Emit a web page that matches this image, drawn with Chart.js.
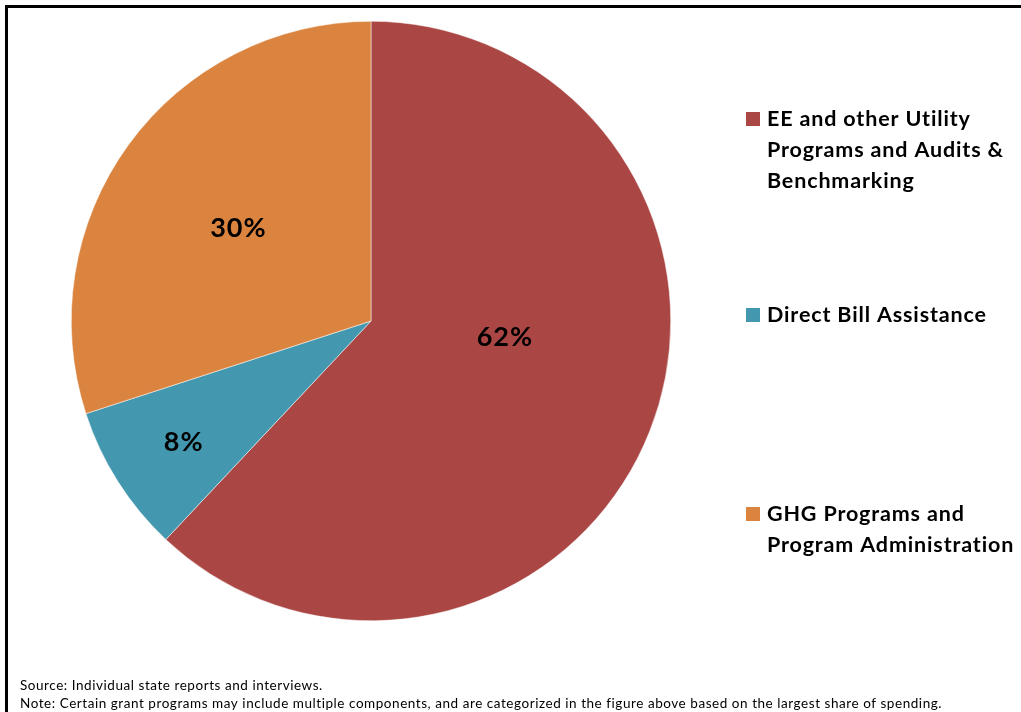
<!DOCTYPE html>
<html>
<head>
<meta charset="utf-8">
<style>
  html, body { margin: 0; padding: 0; background: #ffffff; }
  #wrap { position: relative; width: 1021px; height: 712px; }
</style>
<script src="https://cdn.jsdelivr.net/npm/chart.js@4.4.1/dist/chart.umd.min.js"></script>
</head>
<body>
<div id="wrap"><canvas id="pie" width="1021" height="712"></canvas></div>
<script>
// Spending shares by grant program category
const categories = [
  'EE and other Utility Programs and Audits & Benchmarking',
  'Direct Bill Assistance',
  'GHG Programs and Program Administration'
];
const legendLines = [
  ['EE and other Utility', 'Programs and Audits &', 'Benchmarking'],
  ['Direct Bill Assistance'],
  ['GHG Programs and', 'Program Administration']
];
const shares = [62, 8, 30];
const sliceColors = ['#AA4744', '#4398B0', '#DA843F'];
const footnotes = [
  'Source: Individual state reports and interviews.',
  'Note: Certain grant programs may include multiple components, and are categorized in the figure above based on the largest share of spending.'
];

const FONT = 'Lato, "Open Sans", "Liberation Sans", sans-serif';

// Outer frame (top and left rules)
const framePlugin = {
  id: 'frame',
  beforeDraw(chart) {
    const ctx = chart.ctx;
    ctx.save();
    ctx.fillStyle = '#ffffff';
    ctx.fillRect(0, 0, chart.width, chart.height);
    ctx.strokeStyle = '#000000';
    ctx.lineWidth = 3;
    ctx.beginPath();
    ctx.moveTo(6.5, chart.height);
    ctx.lineTo(6.5, 6.5);
    ctx.lineTo(chart.width, 6.5);
    ctx.stroke();
    ctx.restore();
  }
};

// Percentage labels placed inside each slice
const sliceLabelPlugin = {
  id: 'sliceLabels',
  afterDatasetsDraw(chart, args, opts) {
    const ctx = chart.ctx;
    const meta = chart.getDatasetMeta(0);
    ctx.save();
    ctx.font = 'bold 27px ' + FONT;
    ctx.letterSpacing = '1px';
    ctx.fillStyle = '#000000';
    ctx.textAlign = 'center';
    ctx.textBaseline = 'middle';
    meta.data.forEach((arc, i) => {
      const p = opts.placement[i];
      const ang = (p.angle - 90) * Math.PI / 180;
      const r = arc.outerRadius * p.radius;
      const x = arc.x + r * Math.cos(ang);
      const y = arc.y + r * Math.sin(ang);
      ctx.fillText(chart.data.datasets[0].data[i] + '%', x, y);
    });
    ctx.restore();
  }
};

// Right-hand legend and footnotes
const sideLegendPlugin = {
  id: 'sideLegend',
  afterDraw(chart, args, opts) {
    const ctx = chart.ctx;
    ctx.save();
    ctx.textBaseline = 'middle';
    ctx.textAlign = 'left';
    legendLines.forEach((lines, i) => {
      const top = opts.rowTops[i];
      ctx.fillStyle = sliceColors[i];
      ctx.fillRect(opts.boxX, top - 7, 14, 14);
      ctx.fillStyle = '#000000';
      ctx.font = 'bold 21.5px ' + FONT;
      ctx.letterSpacing = '0.85px';
      lines.forEach((t, j) => {
        ctx.fillText(t, opts.textX, top + j * 31);
      });
    });
    ctx.font = '13.5px ' + FONT;
    ctx.letterSpacing = '0.55px';
    ctx.fillStyle = '#000000';
    footnotes.forEach((t, j) => {
      ctx.fillText(t, 20, 686 + j * 18);
    });
    ctx.restore();
  }
};

new Chart(document.getElementById('pie'), {
  type: 'pie',
  data: {
    labels: categories,
    datasets: [{
      data: shares,
      backgroundColor: sliceColors,
      borderColor: '#ffffff',
      borderWidth: 0.5
    }]
  },
  options: {
    responsive: false,
    animation: false,
    layout: { padding: { left: 71, right: 350, top: 21, bottom: 91 } },
    plugins: {
      legend: { display: false },
      tooltip: { enabled: false },
      sliceLabels: {
        placement: [
          { angle: 97, radius: 0.45 },
          { angle: 237, radius: 0.745 },
          { angle: 305, radius: 0.54 }
        ]
      },
      sideLegend: { boxX: 746, textX: 767, rowTops: [119, 315, 514] }
    }
  },
  plugins: [framePlugin, sliceLabelPlugin, sideLegendPlugin]
});
</script>
</body>
</html>
